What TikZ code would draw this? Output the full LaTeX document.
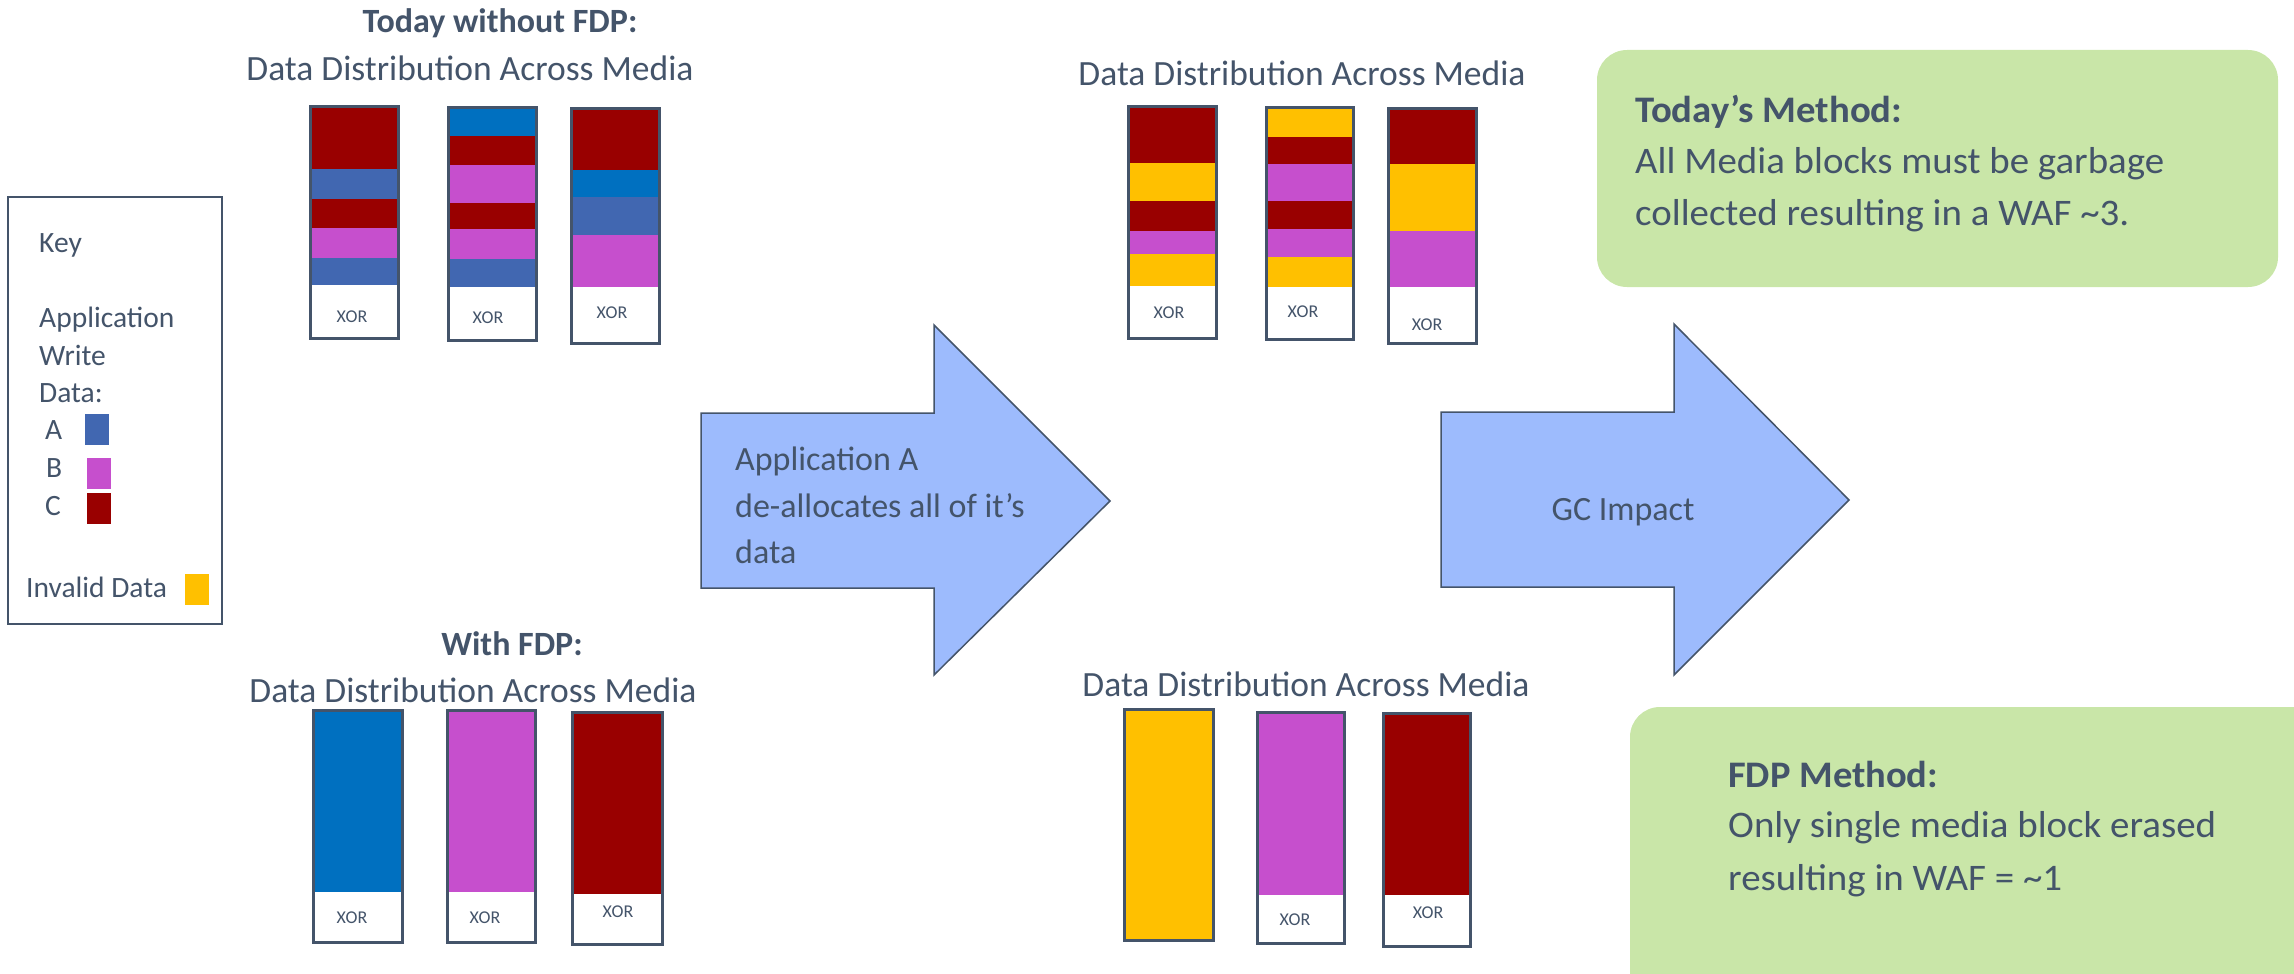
\documentclass[tikz,border=0pt]{standalone}
\usepackage{fontspec}
\usepackage{graphicx}
\setmainfont{Carlito}
\newcommand\wline[2]{\resizebox{#1pt}{\height}{#2}}
\definecolor{txt}{HTML}{44546A}
\definecolor{cR}{HTML}{990000}
\definecolor{cA}{HTML}{4167B1}
\definecolor{cB}{HTML}{0070C0}
\definecolor{cM}{HTML}{C64FCD}
\definecolor{cY}{HTML}{FFC000}
\definecolor{arrfill}{HTML}{9DBBFD}
\definecolor{gbox}{HTML}{C9E6A8}
\newcommand\mediacol[5]{%
  \gdef\segtop{#3}%
  \foreach \c/\y in {#5}{%
    \fill[\c] (#1,\segtop) rectangle (#2,\y);
    \xdef\segtop{\y}%
  }%
  \draw[txt, line width=2pt] (#1,\segtop) -- (#2,\segtop);
  \draw[colline] (#1,#3) rectangle (#2,#4);
}
\begin{document}
\begin{tikzpicture}[x=1pt,y=-1pt,
  colline/.style={draw=txt, line width=3pt},
  xor/.style={anchor=base, inner sep=0pt, text=txt, font=\fontsize{18}{20}\selectfont},
  dd/.style={anchor=base, inner sep=0pt, text=txt, font=\fontsize{35.5}{40}\selectfont},
  ttl/.style={anchor=base, inner sep=0pt, text=txt, font=\fontsize{34}{40}\selectfont\bfseries},
  keyt/.style={anchor=base west, inner sep=0pt, text=txt, font=\fontsize{29.5}{36}\selectfont},
  arr/.style={draw=txt, fill=arrfill, line width=1.5pt, line join=miter},
  arrt/.style={anchor=base west, inner sep=0pt, text=txt, font=\fontsize{34}{40}\selectfont},
  boxt/.style={anchor=base west, inner sep=0pt, text=txt, font=\fontsize{37.5}{44}\selectfont},
]
\useasboundingbox (0,0) rectangle (2294,974);

% ---------- Key ----------
\draw[txt, line width=2pt] (8,197) rectangle (222,624);
\node[keyt] (k0) at (39,252) {Key};
\node[keyt] (k1) at (39,327) {Application};
\node[keyt] (k2) at (39,365) {Write};
\node[keyt] (k3) at (39,402) {Data:};
\node[keyt] (ka) at (45,439) {A};
\node[keyt] (kb) at (46,477) {B};
\node[keyt] (kc) at (45,515) {C};
\node[keyt] (ki) at (26,597) {Invalid Data};
\fill[cA] (85,414) rectangle (109,445);
\fill[cM] (87,458) rectangle (111,489);
\fill[cR] (87,493) rectangle (111,524);
\fill[cY] (185,574) rectangle (209,605);

% ---------- Today without FDP ----------
\node[ttl] (t1) at (500,33) {Today without FDP:};
\node[dd] (d1) at (470,81) {Data Distribution Across Media};
\mediacol{310}{398}{106}{338}{cR/169,cA/199,cR/228,cM/258,cA/285,white/338}
\mediacol{448}{536}{107}{340}{cB/136,cR/165,cM/203,cR/229,cM/259,cA/287,white/340}
\mediacol{571}{659}{108}{343}{cR/170,cB/197,cA/235,cM/287,white/343}
\node[xor] (x1) at (352,322) {XOR};
\node[xor] (x2) at (488,323) {XOR};
\node[xor] (x3) at (612,318) {XOR};

% ---------- With FDP ----------
\node[ttl] (t2) at (512,655) {With FDP:};
\node[dd] (d2) at (473,702) {Data Distribution Across Media};
\mediacol{313}{402}{710}{942}{cB/892,white/942}
\mediacol{447}{535}{710}{942}{cM/892,white/942}
\mediacol{572}{662}{712}{944}{cR/894,white/944}
\node[xor] (x4) at (352,923) {XOR};
\node[xor] (x5) at (485,923) {XOR};
\node[xor] (x6) at (618,917) {XOR};

% ---------- After de-allocation (top) ----------
\node[dd] (d3) at (1302,85) {Data Distribution Across Media};
\mediacol{1128}{1216}{106}{338}{cR/163,cY/201,cR/231,cM/254,cY/286,white/338}
\mediacol{1266}{1353}{107}{339}{cY/137,cR/164,cM/201,cR/229,cM/257,cY/287,white/339}
\mediacol{1388}{1476}{108}{343}{cR/164,cY/231,cM/287,white/343}
\node[xor] (x7) at (1169,318) {XOR};
\node[xor] (x8) at (1303,317) {XOR};
\node[xor] (x9) at (1427,330) {XOR};

% ---------- After de-allocation (bottom) ----------
\node[dd] (d4) at (1306,696) {Data Distribution Across Media};
\fill[cY] (1124,709) rectangle (1213,940);
\draw[colline] (1124,709) rectangle (1213,940);
\mediacol{1257}{1344}{712}{943}{cM/895,white/943}
\mediacol{1383}{1470}{713}{946}{cR/895,white/946}
\node[xor] (x10) at (1295,925) {XOR};
\node[xor] (x11) at (1428,918) {XOR};

% ---------- Arrows ----------
\draw[arr] (701,413) -- (934,413) -- (934,325) -- (1110,501) -- (934,675) -- (934,588) -- (701,588) -- cycle;
\node[arrt] (a1) at (735,470) {Application A};
\node[arrt] (a2) at (735,517) {de-allocates all of it’s};
\node[arrt] (a3) at (735,563) {data};

\draw[arr] (1441,412) -- (1674,412) -- (1674,324) -- (1849,500) -- (1674,675) -- (1674,587) -- (1441,587) -- cycle;
\node[arrt, anchor=base] (gc) at (1623,520) {GC Impact};

% ---------- Green boxes ----------
\fill[gbox, rounded corners=30pt] (1597,50) rectangle (2278,287);
\node[boxt] (b1) at (1635,122) {\wline{267}{\bfseries Today’s Method:}};
\node[boxt] (b2) at (1635,173) {\wline{529}{All Media blocks must be garbage}};
\node[boxt] (b3) at (1635,225) {\wline{494}{collected resulting in a WAF \textasciitilde3.}};

\begin{scope}
\clip (0,0) rectangle (2294,974);
\fill[gbox, rounded corners=30pt] (1630,707) rectangle (2340,1020);
\end{scope}
\node[boxt] (b4) at (1728,787) {\wline{210}{\bfseries FDP Method:}};
\node[boxt] (b5) at (1728,837) {\wline{488}{Only single media block erased}};
\node[boxt] (b6) at (1728,890) {\wline{334}{resulting in WAF = \textasciitilde1}};
\end{tikzpicture}
\end{document}
